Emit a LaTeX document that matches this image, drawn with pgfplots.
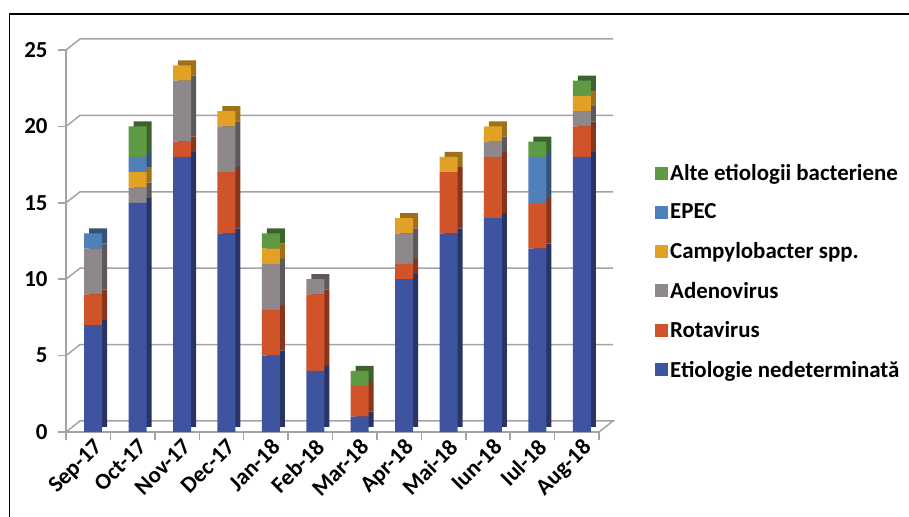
\documentclass[border=0pt]{standalone}
\usepackage{pgfplots}
\pgfplotsset{compat=1.18}
\usepackage{pgfplotstable}
\usepackage{fontspec}
\setmainfont{Carlito}

\definecolor{cE}{RGB}{63,84,161}
\definecolor{cR}{RGB}{208,83,41}
\definecolor{cA}{RGB}{142,135,140}
\definecolor{cC}{RGB}{226,160,36}
\definecolor{cP}{RGB}{79,128,185}
\definecolor{cG}{RGB}{94,153,68}
\colorlet{dE}{cE!62!black}
\colorlet{dR}{cR!65!black}
\colorlet{dA}{cA!65!black}
\colorlet{dC}{cC!70!black}
\colorlet{dP}{cP!65!black}
\colorlet{dG}{cG!65!black}
\definecolor{gridc}{RGB}{166,161,166}

\pgfplotstableread{
m E R A C P G
0 7 2 3 0 1 0
1 15 0 1 1 1 2
2 18 1 4 1 0 0
3 13 4 3 1 0 0
4 5 3 3 1 0 1
5 4 5 1 0 0 0
6 1 2 0 0 0 1
7 10 1 2 1 0 0
8 13 4 0 1 0 0
9 14 4 1 1 0 0
10 12 3 0 0 3 1
11 18 2 1 1 0 1
}\data

\pgfplotsset{base/.style={scale only axis, width=533bp, height=382bp,
  xmin=-0.5, xmax=11.5, ymin=0, ymax=25, anchor=south west}}

\begin{document}
\begin{tikzpicture}[font=\fontsize{23}{27}\selectfont\bfseries]
\useasboundingbox (0,0) rectangle (909bp,517bp);
\draw[line width=1.2bp] (9.5bp,0) -- (9.5bp,503bp) -- (909bp,503bp);

% axis lines, ticks, back-wall grid
\begin{axis}[base, at={(66bp,85bp)}, clip=false,
  axis x line*=bottom, axis y line*=left,
  axis line style={gridc, line width=1.5bp},
  tick align=outside, major tick length=8bp, minor tick length=8bp,
  ytick={0,5,10,15,20,25},
  xtick={0,...,11},
  xticklabels={Sep-17,Oct-17,Nov-17,Dec-17,Jan-18,Feb-18,Mar-18,Apr-18,Mai-18,Iun-18,Iul-18,Aug-18},
  minor xtick={-0.5,0.5,...,11.5},
  major x tick style={draw=none},
  minor x tick style={gridc, line width=1.5bp},
  ytick style={gridc, line width=1.5bp},
  xticklabel style={rotate=45, anchor=north east, xshift=6bp, inner sep=1bp},
  yticklabel style={xshift=-7bp},
  /pgf/number format/assume math mode=true,
]
\pgfplotsinvokeforeach{5,10,15,20,25}{
  \draw[gridc, line width=1.5bp] (axis cs:-0.5,#1) -- ([shift={(14bp,11bp)}]axis cs:-0.5,#1) -- ([shift={(14bp,11bp)}]axis cs:11.5,#1);
}
\draw[gridc, line width=1.5bp] (axis cs:-0.5,0) -- ([shift={(14bp,11bp)}]axis cs:-0.5,0) -- ([shift={(14bp,11bp)}]axis cs:11.5,0) -- (axis cs:11.5,0);
\end{axis}

% dark side faces
\begin{axis}[base, at={(71bp,90bp)}, hide axis, ybar stacked, bar width=18bp, bar shift=5bp]
\addplot[fill=dE, draw=none] table[x=m,y=E]{\data};
\addplot[fill=dR, draw=none] table[x=m,y=R]{\data};
\addplot[fill=dA, draw=none] table[x=m,y=A]{\data};
\addplot[fill=dC, draw=none] table[x=m,y=C]{\data};
\addplot[fill=dP, draw=none] table[x=m,y=P]{\data};
\addplot[fill=dG, draw=none] table[x=m,y=G]{\data};
\end{axis}

% front faces
\begin{axis}[base, at={(66bp,85bp)}, hide axis, ybar stacked, bar width=18bp, bar shift=5bp,
  reverse legend,
  legend cell align=left,
  legend image code/.code={\fill[#1] (0bp,-6.5bp) rectangle (13bp,6.5bp);},
  legend style={draw=none, fill=none, at={(1.105,0.42)}, anchor=west,
    row sep=18bp, inner sep=0pt,
    font=\fontsize{23}{27}\selectfont\bfseries},
]
\addplot[fill=cE, draw=none] table[x=m,y=E]{\data};
\addlegendentry{Etiologie nedeterminată}
\addplot[fill=cR, draw=none] table[x=m,y=R]{\data};
\addlegendentry{Rotavirus}
\addplot[fill=cA, draw=none] table[x=m,y=A]{\data};
\addlegendentry{Adenovirus}
\addplot[fill=cC, draw=none] table[x=m,y=C]{\data};
\addlegendentry{Campylobacter spp.}
\addplot[fill=cP, draw=none] table[x=m,y=P]{\data};
\addlegendentry{EPEC}
\addplot[fill=cG, draw=none] table[x=m,y=G]{\data};
\addlegendentry{Alte etiologii bacteriene}
\end{axis}
\end{tikzpicture}
\end{document}
